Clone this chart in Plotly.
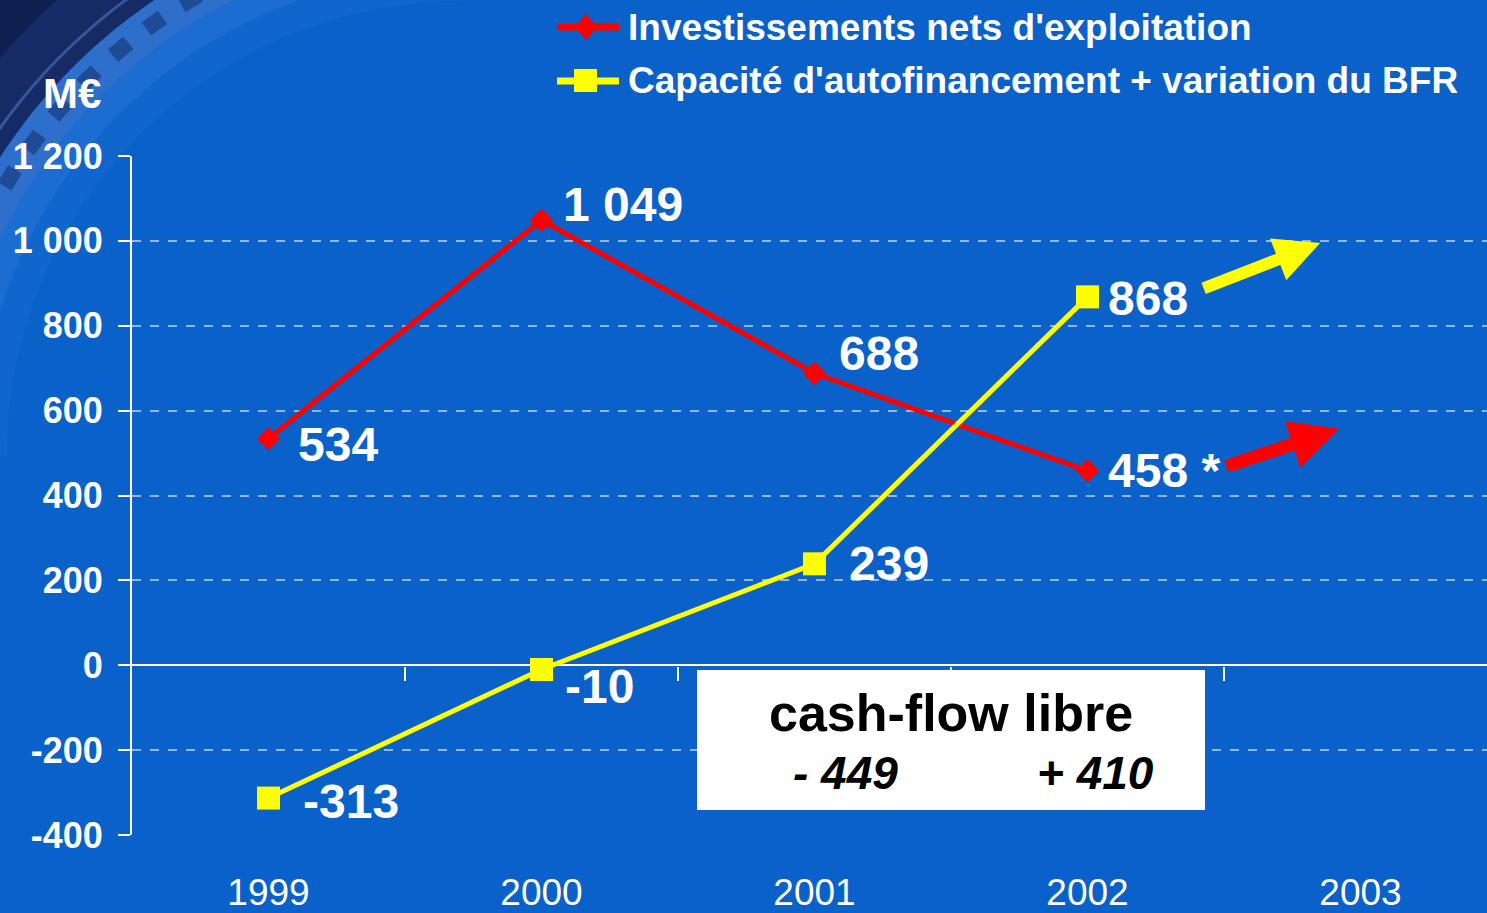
import numpy as np
import plotly.graph_objects as go

years = [1999, 2000, 2001, 2002, 2003]
year_labels = ["1999", "2000", "2001", "2002", "2003"]
invest = [534, 1049, 688, 458]
invest_labels = ["534", "1 049", "688", "458 *"]
caf_bfr = [-313, -10, 239, 868]
caf_labels = ["-313", "-10", "239", "868"]
y_ticks = [-400, -200, 0, 200, 400, 600, 800, 1000, 1200]
y_tick_labels = ["-400", "-200", "0", "200", "400", "600", "800", "1 000", "1 200"]
series_names = ["Investissements nets d'exploitation",
                "Capacité d'autofinancement + variation du BFR"]
cash_flow_title = "cash-flow libre"
cash_flow = ["- 449", "+ 410"]

BG = "#0961c9"
RED = "#ff0000"
YELLOW = "#ffff00"
SANS = "Liberation Sans, Arial"

# plot area in pixels, used to place decorations in paper coords
L, R, T, B = 132, 1487, 156, 835


def px(x):
    return (x - L) / (R - L)


def py(y):
    return (B - y) / (B - T)


def path_from(points):
    return "M " + " L ".join(f"{px(x):.5f},{py(y):.5f}" for x, y in points) + " Z"


fig = go.Figure()

fig.add_trace(go.Scatter(
    x=years[:len(invest)], y=invest, mode="lines+markers", name=series_names[0],
    line=dict(color=RED, width=5),
    marker=dict(symbol="diamond", size=18, color=RED),
))
fig.add_trace(go.Scatter(
    x=years[:len(caf_bfr)], y=caf_bfr, mode="lines+markers", name=series_names[1],
    line=dict(color=YELLOW, width=5),
    marker=dict(symbol="square", size=23, color=YELLOW),
))

# decorative film-strip arc in the top-left corner
cx, cy = 462, 456
ang = np.radians(np.linspace(-180, -90, 80))


def arc(r, rev=False):
    a = ang[::-1] if rev else ang
    return [(cx + r * np.cos(t), cy + r * np.sin(t)) for t in a]


shapes = [
    dict(type="path", path=path_from(arc(550) + [(-200, -200)]), xref="paper", yref="paper",
         fillcolor="#162a66", line_width=0, layer="below"),
    dict(type="path", path=path_from(arc(610) + [(-200, -200)]), xref="paper", yref="paper",
         fillcolor="rgba(8,15,50,0.4)", line_width=0, layer="below"),
    dict(type="path", path=path_from(arc(568) + arc(565, True)), xref="paper", yref="paper",
         fillcolor="rgba(90,140,220,0.45)", line_width=0, layer="below"),
    dict(type="path", path=path_from(arc(550) + arc(510, True)), xref="paper", yref="paper",
         fillcolor="#2f6fcc", line_width=0, layer="below"),
    dict(type="path", path=path_from(arc(510) + arc(484, True)), xref="paper", yref="paper",
         fillcolor="rgba(70,140,230,0.3)", line_width=0, layer="below"),
    dict(type="path", path=path_from(arc(484) + arc(455, True)), xref="paper", yref="paper",
         fillcolor="rgba(70,140,230,0.12)", line_width=0, layer="below"),
]
for a in np.radians(np.arange(-176, -92, 4.6)):
    c = np.array([cx + 531 * np.cos(a), cy + 531 * np.sin(a)])
    t = np.array([-np.sin(a), np.cos(a)])
    n = np.array([np.cos(a), np.sin(a)])
    pts = [c + 10 * t + 8 * n, c - 10 * t + 8 * n, c - 10 * t - 8 * n, c + 10 * t - 8 * n]
    shapes.append(dict(type="path", path=path_from(pts), xref="paper", yref="paper",
                       fillcolor="#1e4a96", line_width=0, layer="below"))

# white cash-flow box
shapes.append(dict(type="rect", xref="paper", yref="paper",
                   x0=px(697), x1=px(1205), y0=py(810), y1=py(670),
                   fillcolor="white", line_width=0, layer="above"))

# hand-drawn legend (long line samples with marker in the middle)
legend_y = [27, 81]
legend_colors = [RED, YELLOW]
for yy, col in zip(legend_y, legend_colors):
    shapes.append(dict(type="line", xref="paper", yref="paper",
                       x0=px(557), x1=px(619), y0=py(yy), y1=py(yy),
                       line=dict(color=col, width=7)))
shapes.append(dict(type="path", xref="paper", yref="paper",
                   path=path_from([(586, 14), (597, 27), (586, 40), (575, 27)]),
                   fillcolor=RED, line_width=0))
shapes.append(dict(type="rect", xref="paper", yref="paper",
                   x0=px(574), x1=px(597), y0=py(92), y1=py(69),
                   fillcolor=YELLOW, line_width=0))

annotations = []
for yy, name in zip(legend_y, series_names):
    annotations.append(dict(xref="paper", yref="paper", x=px(626), y=py(yy),
                            xanchor="left", yanchor="middle", text=f"<b>{name}</b>",
                            showarrow=False, font=dict(family=SANS, size=37, color="white")))

# trend arrows
annotations.append(dict(x=2002.852, y=995, ax=-118, ay=46, text="", showarrow=True,
                        arrowhead=2, arrowwidth=12, arrowsize=0.75, arrowcolor=YELLOW))
annotations.append(dict(x=2002.921, y=557, ax=-114, ay=38, text="", showarrow=True,
                        arrowhead=2, arrowwidth=13, arrowsize=0.75, arrowcolor=RED))

inv_shift = [(27, -6), (19, 16), (22, 20), (18, 0)]
caf_shift = [(32, -3), (21, -17), (32, 0), (18, -2)]
for xs, ys, labs, shifts in [(years, invest, invest_labels, inv_shift),
                             (years, caf_bfr, caf_labels, caf_shift)]:
    for x, y, lab, (dx, dy) in zip(xs, ys, labs, shifts):
        annotations.append(dict(
            x=x, y=y, text=f"<b>{lab}</b>", showarrow=False,
            xanchor="left", yanchor="middle", xshift=dx, yshift=dy,
            font=dict(family=SANS, size=48, color="white"),
        ))

annotations.append(dict(xref="paper", yref="paper", x=px(951), y=py(713),
                        xanchor="center", yanchor="middle",
                        text=f"<b>{cash_flow_title}</b>", showarrow=False,
                        font=dict(family=SANS, size=52, color="black")))
for xc, txt in zip([845, 1095], cash_flow):
    annotations.append(dict(xref="paper", yref="paper", x=px(xc), y=py(773),
                            xanchor="center", yanchor="middle",
                            text=f"<b><i>{txt}</i></b>", showarrow=False,
                            font=dict(family=SANS, size=46, color="black")))

annotations.append(dict(xref="paper", yref="paper", x=px(72), y=py(93),
                        xanchor="center", yanchor="middle",
                        text="<b>M€</b>", showarrow=False,
                        font=dict(family=SANS, size=42, color="white")))

x_bounds = [(a + b) / 2 for a, b in zip(years[:-1], years[1:])]

fig.update_layout(
    width=1487, height=913,
    paper_bgcolor=BG, plot_bgcolor="rgba(0,0,0,0)",
    margin=dict(l=L, r=1487 - R, t=T, b=913 - B, autoexpand=False),
    shapes=shapes, annotations=annotations,
    showlegend=False,
    xaxis=dict(
        range=[years[0] - 0.5, years[0] - 0.5 + (R - L) / 273],
        tickvals=years, ticktext=year_labels,
        showgrid=False, showline=False, zeroline=False, automargin=False,
        ticks="outside", ticklen=25, tickcolor="rgba(0,0,0,0)",
        tickfont=dict(family=SANS, size=37, color="white"),
    ),
    xaxis2=dict(
        overlaying="x", matches="x", anchor="free", side="bottom",
        position=(835 - 666) / (B - T), automargin=False,
        tickvals=x_bounds, showticklabels=False,
        ticks="outside", ticklen=14, tickwidth=2, tickcolor="white",
        showgrid=False, showline=False, zeroline=False,
    ),
    yaxis=dict(
        range=[-400, 1200], automargin=False,
        tickvals=y_ticks, ticktext=y_tick_labels,
        showgrid=True, gridcolor="rgba(255,255,255,0.55)", gridwidth=1.5, griddash="dash",
        zeroline=True, zerolinecolor="white", zerolinewidth=2,
        showline=True, linecolor="white", linewidth=2,
        ticks="outside", ticklen=12, tickwidth=2, tickcolor="white",
        ticklabelstandoff=8,
        tickfont=dict(family=SANS, size=36, color="white", weight="bold"),
    ),
)

# invisible trace so the overlay tick axis is drawn
fig.add_trace(go.Scatter(x=years, y=[None] * len(years), xaxis="x2",
                         showlegend=False, hoverinfo="skip"))

fig.write_html("out.html", config={"displayModeBar": False},
               post_script="document.body.style.margin='0px';")
